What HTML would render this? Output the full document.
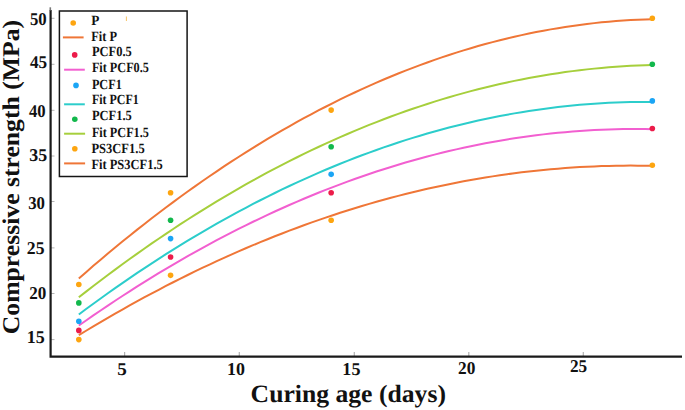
<!DOCTYPE html>
<html><head><meta charset="utf-8"><style>
html,body{margin:0;padding:0;background:#fff;}
body{width:685px;height:410px;overflow:hidden;}
svg{display:block;}
#w{width:685px;height:410px;}
text{font-family:"Liberation Serif",serif;font-weight:bold;fill:#111;text-rendering:geometricPrecision;}
</style></head><body>
<div id="w"><svg width="685" height="410" viewBox="0 0 685 410">
<line x1="51" x2="54.5" y1="18.3" y2="18.3" stroke="#b4b4b4" stroke-width="1"/><line x1="51" x2="54.5" y1="64.3" y2="64.3" stroke="#b4b4b4" stroke-width="1"/><line x1="51" x2="54.5" y1="110.3" y2="110.3" stroke="#b4b4b4" stroke-width="1"/><line x1="51" x2="54.5" y1="156.0" y2="156.0" stroke="#b4b4b4" stroke-width="1"/><line x1="51" x2="54.5" y1="201.5" y2="201.5" stroke="#b4b4b4" stroke-width="1"/><line x1="51" x2="54.5" y1="247.9" y2="247.9" stroke="#b4b4b4" stroke-width="1"/><line x1="51" x2="54.5" y1="293.5" y2="293.5" stroke="#b4b4b4" stroke-width="1"/><line x1="51" x2="54.5" y1="339.6" y2="339.6" stroke="#b4b4b4" stroke-width="1"/><line x1="124.6" x2="124.6" y1="352" y2="356" stroke="#b0b0b0" stroke-width="1.2"/><line x1="239.3" x2="239.3" y1="352" y2="356" stroke="#b0b0b0" stroke-width="1.2"/><line x1="354.3" x2="354.3" y1="352" y2="356" stroke="#b0b0b0" stroke-width="1.2"/><line x1="468.8" x2="468.8" y1="352" y2="356" stroke="#b0b0b0" stroke-width="1.2"/><line x1="583.3" x2="583.3" y1="352" y2="356" stroke="#b0b0b0" stroke-width="1.2"/>
<path d="M50.6 10 V356.6 H682" fill="none" stroke="#1a1a1a" stroke-width="2.2"/><line x1="50.3" x2="50.3" y1="7.3" y2="10.5" stroke="#777" stroke-width="1.6"/>
<polyline points="78.82,335.19 86.08,330.77 93.34,326.40 100.60,322.10 107.86,317.85 115.12,313.66 122.38,309.53 129.64,305.46 136.90,301.45 144.16,297.49 151.41,293.60 158.67,289.76 165.93,285.98 173.19,282.26 180.45,278.60 187.71,274.99 194.97,271.45 202.23,267.96 209.49,264.53 216.75,261.16 224.01,257.85 231.27,254.60 238.53,251.40 245.79,248.26 253.05,245.19 260.31,242.17 267.57,239.20 274.83,236.30 282.09,233.46 289.35,230.67 296.60,227.94 303.86,225.27 311.12,222.66 318.38,220.11 325.64,217.61 332.90,215.18 340.16,212.80 347.42,210.48 354.68,208.22 361.94,206.02 369.20,203.88 376.46,201.79 383.72,199.76 390.98,197.80 398.24,195.89 405.50,194.03 412.76,192.24 420.02,190.51 427.28,188.83 434.54,187.21 441.79,185.65 449.05,184.15 456.31,182.71 463.57,181.33 470.83,180.00 478.09,178.73 485.35,177.52 492.61,176.37 499.87,175.28 507.13,174.25 514.39,173.27 521.65,172.35 528.91,171.50 536.17,170.70 543.43,169.95 550.69,169.27 557.95,168.65 565.21,168.08 572.47,167.57 579.73,167.12 586.98,166.73 594.24,166.40 601.50,166.12 608.76,165.91 616.02,165.75 623.28,165.65 630.54,165.61 637.80,165.63 645.06,165.71 652.32,165.84" fill="none" stroke="#ef7637" stroke-width="2"/><polyline points="78.82,325.55 86.08,320.46 93.34,315.43 100.60,310.47 107.86,305.58 115.12,300.75 122.38,295.99 129.64,291.30 136.90,286.68 144.16,282.12 151.41,277.63 158.67,273.20 165.93,268.85 173.19,264.56 180.45,260.33 187.71,256.18 194.97,252.09 202.23,248.06 209.49,244.11 216.75,240.22 224.01,236.39 231.27,232.64 238.53,228.95 245.79,225.33 253.05,221.77 260.31,218.28 267.57,214.86 274.83,211.51 282.09,208.22 289.35,205.00 296.60,201.85 303.86,198.76 311.12,195.74 318.38,192.78 325.64,189.90 332.90,187.08 340.16,184.33 347.42,181.64 354.68,179.02 361.94,176.47 369.20,173.98 376.46,171.56 383.72,169.21 390.98,166.93 398.24,164.71 405.50,162.56 412.76,160.47 420.02,158.45 427.28,156.50 434.54,154.62 441.79,152.80 449.05,151.05 456.31,149.37 463.57,147.75 470.83,146.20 478.09,144.72 485.35,143.30 492.61,141.96 499.87,140.67 507.13,139.46 514.39,138.31 521.65,137.23 528.91,136.21 536.17,135.26 543.43,134.38 550.69,133.57 557.95,132.82 565.21,132.14 572.47,131.53 579.73,130.98 586.98,130.50 594.24,130.09 601.50,129.74 608.76,129.46 616.02,129.25 623.28,129.10 630.54,129.02 637.80,129.01 645.06,129.07 652.32,129.19" fill="none" stroke="#f25fd0" stroke-width="2"/><polyline points="78.82,314.47 86.08,309.07 93.34,303.73 100.60,298.47 107.86,293.27 115.12,288.15 122.38,283.09 129.64,278.10 136.90,273.19 144.16,268.34 151.41,263.56 158.67,258.85 165.93,254.21 173.19,249.65 180.45,245.15 187.71,240.72 194.97,236.36 202.23,232.07 209.49,227.84 216.75,223.69 224.01,219.61 231.27,215.60 238.53,211.66 245.79,207.78 253.05,203.98 260.31,200.24 267.57,196.58 274.83,192.98 282.09,189.46 289.35,186.00 296.60,182.62 303.86,179.30 311.12,176.05 318.38,172.88 325.64,169.77 332.90,166.73 340.16,163.76 347.42,160.86 354.68,158.03 361.94,155.27 369.20,152.58 376.46,149.96 383.72,147.41 390.98,144.93 398.24,142.52 405.50,140.17 412.76,137.90 420.02,135.70 427.28,133.56 434.54,131.50 441.79,129.51 449.05,127.58 456.31,125.73 463.57,123.94 470.83,122.22 478.09,120.58 485.35,119.00 492.61,117.49 499.87,116.05 507.13,114.69 514.39,113.39 521.65,112.16 528.91,111.00 536.17,109.91 543.43,108.89 550.69,107.94 557.95,107.06 565.21,106.25 572.47,105.50 579.73,104.83 586.98,104.23 594.24,103.69 601.50,103.23 608.76,102.84 616.02,102.51 623.28,102.26 630.54,102.07 637.80,101.96 645.06,101.91 652.32,101.93" fill="none" stroke="#2ccdcb" stroke-width="2"/><polyline points="78.82,297.30 86.08,291.62 93.34,286.02 100.60,280.48 107.86,275.01 115.12,269.61 122.38,264.29 129.64,259.03 136.90,253.84 144.16,248.73 151.41,243.68 158.67,238.71 165.93,233.80 173.19,228.96 180.45,224.20 187.71,219.50 194.97,214.88 202.23,210.32 209.49,205.84 216.75,201.43 224.01,197.08 231.27,192.81 238.53,188.60 245.79,184.47 253.05,180.41 260.31,176.41 267.57,172.49 274.83,168.64 282.09,164.86 289.35,161.14 296.60,157.50 303.86,153.93 311.12,150.43 318.38,147.00 325.64,143.63 332.90,140.34 340.16,137.12 347.42,133.97 354.68,130.89 361.94,127.88 369.20,124.94 376.46,122.07 383.72,119.27 390.98,116.54 398.24,113.88 405.50,111.29 412.76,108.78 420.02,106.33 427.28,103.95 434.54,101.64 441.79,99.40 449.05,97.23 456.31,95.14 463.57,93.11 470.83,91.15 478.09,89.26 485.35,87.45 492.61,85.70 499.87,84.02 507.13,82.42 514.39,80.88 521.65,79.42 528.91,78.02 536.17,76.70 543.43,75.44 550.69,74.25 557.95,73.14 565.21,72.10 572.47,71.12 579.73,70.22 586.98,69.38 594.24,68.62 601.50,67.92 608.76,67.30 616.02,66.75 623.28,66.27 630.54,65.85 637.80,65.51 645.06,65.24 652.32,65.03" fill="none" stroke="#a6cf3c" stroke-width="2"/><polyline points="78.82,278.48 86.08,272.13 93.34,265.86 100.60,259.67 107.86,253.56 115.12,247.52 122.38,241.57 129.64,235.69 136.90,229.89 144.16,224.17 151.41,218.53 158.67,212.97 165.93,207.49 173.19,202.08 180.45,196.75 187.71,191.51 194.97,186.34 202.23,181.25 209.49,176.23 216.75,171.30 224.01,166.45 231.27,161.67 238.53,156.97 245.79,152.35 253.05,147.81 260.31,143.35 267.57,138.97 274.83,134.67 282.09,130.44 289.35,126.29 296.60,122.22 303.86,118.24 311.12,114.32 318.38,110.49 325.64,106.74 332.90,103.06 340.16,99.47 347.42,95.95 354.68,92.51 361.94,89.15 369.20,85.87 376.46,82.66 383.72,79.54 390.98,76.49 398.24,73.52 405.50,70.64 412.76,67.83 420.02,65.09 427.28,62.44 434.54,59.87 441.79,57.37 449.05,54.95 456.31,52.62 463.57,50.36 470.83,48.18 478.09,46.07 485.35,44.05 492.61,42.10 499.87,40.24 507.13,38.45 514.39,36.74 521.65,35.11 528.91,33.56 536.17,32.08 543.43,30.69 550.69,29.37 557.95,28.14 565.21,26.98 572.47,25.90 579.73,24.89 586.98,23.97 594.24,23.13 601.50,22.36 608.76,21.67 616.02,21.07 623.28,20.54 630.54,20.09 637.80,19.71 645.06,19.42 652.32,19.20" fill="none" stroke="#ef7637" stroke-width="2"/>
<circle cx="78.82" cy="339.60" r="2.8" fill="#fda510"/><circle cx="170.58" cy="275.34" r="2.8" fill="#fda510"/><circle cx="331.16" cy="220.26" r="2.8" fill="#fda510"/><circle cx="652.32" cy="165.18" r="2.8" fill="#fda510"/><circle cx="78.82" cy="330.42" r="2.8" fill="#ec1c4a"/><circle cx="170.58" cy="256.98" r="2.8" fill="#ec1c4a"/><circle cx="331.16" cy="192.72" r="2.8" fill="#ec1c4a"/><circle cx="652.32" cy="128.46" r="2.8" fill="#ec1c4a"/><circle cx="78.82" cy="321.24" r="2.8" fill="#1ba5f5"/><circle cx="170.58" cy="238.62" r="2.8" fill="#1ba5f5"/><circle cx="331.16" cy="174.36" r="2.8" fill="#1ba5f5"/><circle cx="652.32" cy="100.92" r="2.8" fill="#1ba5f5"/><circle cx="78.82" cy="302.88" r="2.8" fill="#12b84c"/><circle cx="170.58" cy="220.26" r="2.8" fill="#12b84c"/><circle cx="331.16" cy="146.82" r="2.8" fill="#12b84c"/><circle cx="652.32" cy="64.20" r="2.8" fill="#12b84c"/><circle cx="78.82" cy="284.52" r="2.8" fill="#fda510"/><circle cx="170.58" cy="192.72" r="2.8" fill="#fda510"/><circle cx="331.16" cy="110.10" r="2.8" fill="#fda510"/><circle cx="652.32" cy="18.30" r="2.8" fill="#fda510"/>
<rect x="59.4" y="11" width="127.7" height="165.5" fill="#fff" stroke="#151515" stroke-width="1.5"/>
<circle cx="73.2" cy="23.0" r="2.8" fill="#fda510"/><line x1="62.9" x2="83.6" y1="37.4" y2="37.4" stroke="#ef7637" stroke-width="2"/><circle cx="74.7" cy="54.9" r="2.8" fill="#ec1c4a"/><line x1="64.1" x2="84.8" y1="69.7" y2="69.7" stroke="#f25fd0" stroke-width="2"/><circle cx="76.0" cy="85.4" r="2.8" fill="#1ba5f5"/><line x1="64.1" x2="84.8" y1="104.3" y2="104.3" stroke="#2ccdcb" stroke-width="2"/><circle cx="74.8" cy="119.2" r="2.8" fill="#12b84c"/><line x1="64.1" x2="85.1" y1="133.7" y2="133.7" stroke="#a6cf3c" stroke-width="2"/><circle cx="74.8" cy="148.8" r="2.8" fill="#fda510"/><line x1="64.1" x2="85.1" y1="163.4" y2="163.4" stroke="#ef7637" stroke-width="2"/>
<line x1="126.4" x2="126.4" y1="16.5" y2="21" stroke="#f6b640" stroke-width="1" opacity="0.8"/>
<text x="29.95" y="24.77" font-size="18" textLength="16.75" lengthAdjust="spacingAndGlyphs">50</text><text x="29.97" y="68.37" font-size="18" textLength="17.21" lengthAdjust="spacingAndGlyphs">45</text><text x="28.93" y="117.36" font-size="18" textLength="16.69" lengthAdjust="spacingAndGlyphs">40</text><text x="29.20" y="161.34" font-size="18" textLength="17.91" lengthAdjust="spacingAndGlyphs">35</text><text x="28.13" y="208.97" font-size="18" textLength="16.78" lengthAdjust="spacingAndGlyphs">30</text><text x="26.86" y="253.76" font-size="18" textLength="17.67" lengthAdjust="spacingAndGlyphs">25</text><text x="29.32" y="298.75" font-size="18" textLength="17.06" lengthAdjust="spacingAndGlyphs">20</text><text x="26.73" y="342.76" font-size="18" textLength="18.04" lengthAdjust="spacingAndGlyphs">15</text><text x="117.17" y="374.68" font-size="18" textLength="9.56" lengthAdjust="spacingAndGlyphs">5</text><text x="227.12" y="375.14" font-size="18" textLength="17.95" lengthAdjust="spacingAndGlyphs">10</text><text x="342.33" y="374.55" font-size="18" textLength="18.10" lengthAdjust="spacingAndGlyphs">15</text><text x="458.01" y="373.94" font-size="18" textLength="17.32" lengthAdjust="spacingAndGlyphs">20</text><text x="569.95" y="371.75" font-size="18" textLength="17.24" lengthAdjust="spacingAndGlyphs">25</text><text x="91.15" y="25.14" font-size="14" textLength="8.12" lengthAdjust="spacingAndGlyphs">P</text><text x="91.27" y="40.53" font-size="14" textLength="25.78" lengthAdjust="spacingAndGlyphs">Fit P</text><text x="91.92" y="56.23" font-size="14" textLength="39.85" lengthAdjust="spacingAndGlyphs">PCF0.5</text><text x="91.92" y="71.85" font-size="14" textLength="56.94" lengthAdjust="spacingAndGlyphs">Fit PCF0.5</text><text x="91.92" y="88.84" font-size="14" textLength="29.83" lengthAdjust="spacingAndGlyphs">PCF1</text><text x="91.93" y="104.24" font-size="14" textLength="46.91" lengthAdjust="spacingAndGlyphs">Fit PCF1</text><text x="91.92" y="120.03" font-size="14" textLength="39.85" lengthAdjust="spacingAndGlyphs">PCF1.5</text><text x="91.92" y="136.85" font-size="14" textLength="56.94" lengthAdjust="spacingAndGlyphs">Fit PCF1.5</text><text x="91.40" y="153.03" font-size="14" textLength="53.25" lengthAdjust="spacingAndGlyphs">PS3CF1.5</text><text x="91.40" y="168.84" font-size="14" textLength="71.35" lengthAdjust="spacingAndGlyphs">Fit PS3CF1.5</text><text x="250.64" y="402.27" font-size="25" textLength="195.31" lengthAdjust="spacingAndGlyphs">Curing age (days)</text><text transform="translate(18.68,334.24) rotate(-90) scale(1,0.9597732075652683)" font-size="25" textLength="314.36" lengthAdjust="spacingAndGlyphs">Compressive strength (MPa)</text>
</svg></div>
</body></html>
